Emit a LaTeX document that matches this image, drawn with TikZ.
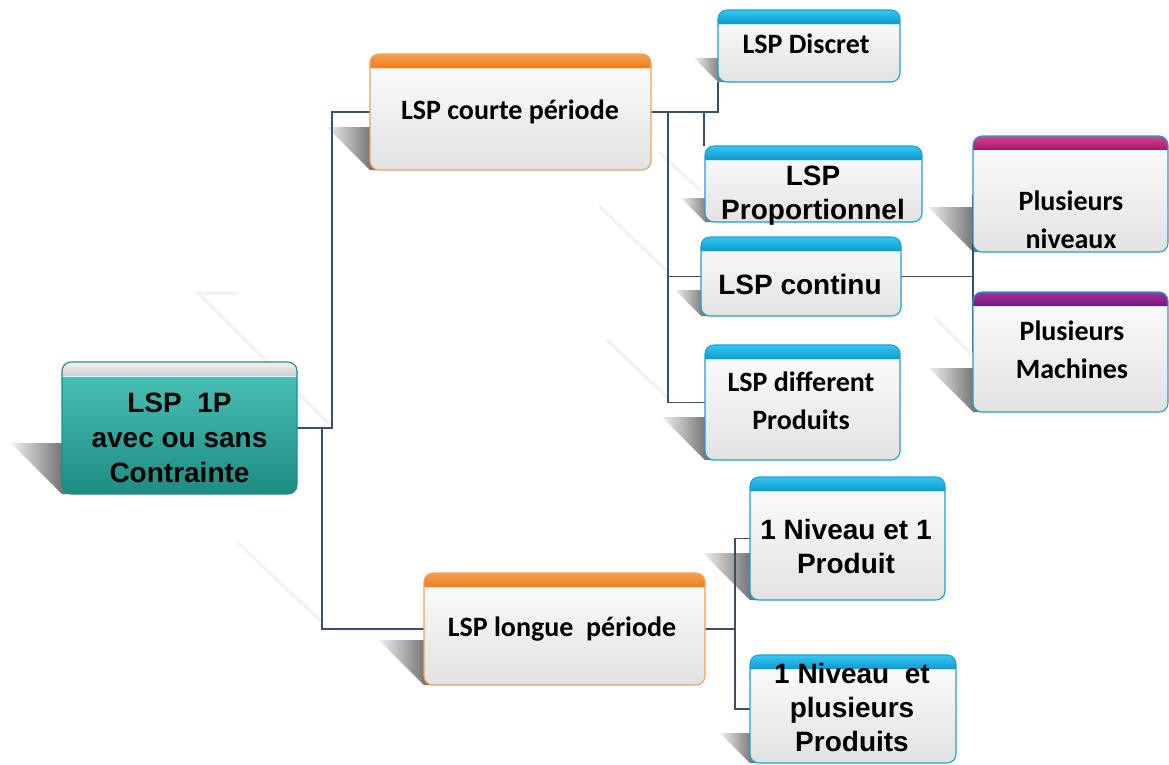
\documentclass[tikz,border=0pt]{standalone}
\usepackage{fontspec}
\setmainfont{Liberation Sans}
\newfontfamily\calib{Carlito}
\usetikzlibrary{fit,calc}

\definecolor{connc}{RGB}{58,78,110}
\definecolor{bodytop}{RGB}{253,253,253}
\definecolor{bodybot}{RGB}{226,226,226}
\definecolor{bluetop}{RGB}{52,200,242}
\definecolor{bluebot}{RGB}{11,154,208}
\definecolor{blueline}{RGB}{30,160,213}
\definecolor{orgtop}{RGB}{245,160,80}
\definecolor{orgbot}{RGB}{236,125,34}
\definecolor{orgline}{RGB}{242,160,90}
\definecolor{magtop}{RGB}{212,68,143}
\definecolor{magbot}{RGB}{166,24,104}
\definecolor{purtop}{RGB}{161,51,159}
\definecolor{purbot}{RGB}{122,19,122}
\definecolor{tealtop}{RGB}{76,197,186}
\definecolor{tealbot}{RGB}{30,140,131}
\definecolor{tealline}{RGB}{31,143,134}
\definecolor{greytop}{RGB}{244,244,244}
\definecolor{greybot}{RGB}{205,205,205}

% card: clipped body gradient, header band, rounded border
\newcommand\drawcard[7]{%
  \begin{scope}
    \clip[rounded corners=9pt] (#1.north west) rectangle (#1.south east);
    \shade[top color=#5, bottom color=#6] (#1.north west) rectangle (#1.south east);
    \shade[top color=#2, bottom color=#3] (#1.north west) rectangle ([yshift=-14pt]#1.north east);
    \draw[#7, line width=0.7pt] ([yshift=-14pt]#1.north west) -- ([yshift=-14pt]#1.north east);
  \end{scope}
  \draw[#4, line width=1.1pt, rounded corners=9pt] (#1.north west) rectangle (#1.south east);
}
% slanted cast shadow to the lower left of a card
\newcommand\castshadow[2]{%
  \shade[left color=black!6, right color=black!62]
    ([xshift=-#2pt,yshift=#2pt]#1.south west) -- ([xshift=8pt,yshift=#2pt]#1.south west)
    -- ([xshift=8pt]#1.south west) -- (#1.south west) -- cycle;
}

\begin{document}
\begin{tikzpicture}[x=1pt,y=-1pt,
  frame/.style={inner sep=0pt, outer sep=0pt},
  conn/.style={draw=connc, line width=1.3pt},
  gleam/.style={draw=black!5, line width=3pt, line cap=round},
  arialtxt/.style={font=\bfseries\fontsize{28}{34}\selectfont, align=center, inner sep=0pt},
  calitxt/.style={font=\calib\bfseries\fontsize{28}{38.5}\selectfont, align=center, inner sep=0pt}]
\useasboundingbox[fill=white] (0,0) rectangle (1169,764);

% card frames
\node[frame, fit={(62,362) (297,494)}] (root) {};
\node[frame, fit={(370,54) (651,170)}] (courte) {};
\node[frame, fit={(718,10) (900,82)}] (disc) {};
\node[frame, fit={(705,146) (922,222)}] (prop) {};
\node[frame, fit={(701,237) (901,316)}] (cont) {};
\node[frame, fit={(705,345) (900,460)}] (diff) {};
\node[frame, fit={(973,136) (1168,252)}] (niv) {};
\node[frame, fit={(973,292) (1168,412)}] (mach) {};
\node[frame, fit={(424,573) (705,685)}] (longue) {};
\node[frame, fit={(750,477) (945,600)}] (nA) {};
\node[frame, fit={(750,655) (956,763)}] (nB) {};

% faint reflections on the floor
\draw[gleam] (236,293) -- (198,293) -- (330,425);
\draw[gleam] (238,543) -- (322,622);
\draw[gleam] (600,207) -- (668,272);
\draw[gleam] (607,340) -- (668,398);
\draw[gleam] (660,153) -- (700,190);
\draw[gleam] (935,318) -- (972,355);

% shadows
\castshadow{root}{51}
\castshadow{courte}{43}
\castshadow{disc}{24}
\castshadow{prop}{24}
\castshadow{cont}{26}
\castshadow{diff}{43}
\castshadow{niv}{45}
\castshadow{mach}{44}
\castshadow{longue}{45}
\castshadow{nA}{47}
\castshadow{nB}{30}

% connectors
\coordinate (rj) at ($(root.east)+(35,0)$);
\coordinate (rk) at ($(root.east)+(25,0)$);
\draw[conn] (root.east) -- (rj) |- (courte.west);
\draw[conn] (rk) |- (longue.west);

\coordinate (cj) at ($(courte.east)+(17,0)$);
\draw[conn] (courte.east) -| (disc.south west);
\draw[conn] (courte.east) -| ([xshift=-1pt]prop.north west);
\draw[conn] (cj) |- (cont.west);
\draw[conn] (cj) |- (diff.west);

\draw[conn] (cont.east) -| (niv.west);
\draw[conn] (cont.east) -| (mach.west);

\coordinate (lj) at ($(longue.east)+(30,0)$);
\draw[conn] (longue.east) -- (lj);
\draw[conn] (lj) |- (nA.west);
\draw[conn] (lj) |- (nB.west);

% cards
\drawcard{root}{greytop}{greybot}{tealline}{tealtop}{tealbot}{white!80!tealtop}
\drawcard{courte}{orgtop}{orgbot}{orgline}{bodytop}{bodybot}{white!70!orgtop}
\drawcard{longue}{orgtop}{orgbot}{orgline}{bodytop}{bodybot}{white!70!orgtop}
\drawcard{disc}{bluetop}{bluebot}{blueline}{bodytop}{bodybot}{white!70!bluetop}
\drawcard{prop}{bluetop}{bluebot}{blueline}{bodytop}{bodybot}{white!70!bluetop}
\drawcard{cont}{bluetop}{bluebot}{blueline}{bodytop}{bodybot}{white!70!bluetop}
\drawcard{diff}{bluetop}{bluebot}{blueline}{bodytop}{bodybot}{white!70!bluetop}
\drawcard{nA}{bluetop}{bluebot}{blueline}{bodytop}{bodybot}{white!70!bluetop}
\drawcard{nB}{bluetop}{bluebot}{blueline}{bodytop}{bodybot}{white!70!bluetop}
\drawcard{niv}{magtop}{magbot}{blueline}{bodytop}{bodybot}{white!70!bluetop}
\drawcard{mach}{purtop}{purbot}{blueline}{bodytop}{bodybot}{white!70!bluetop}

% labels
\node[arialtxt, font=\bfseries\fontsize{28}{35}\selectfont] (rootT) at (179.5,438) {LSP~~1P\\avec ou sans\\Contrainte};
\node[calitxt] (courteT) at (510,112) {LSP courte période};
\node[calitxt] (discT) at (806,44) {LSP Discret};
\node[arialtxt] (propT) at (813,196) {LSP\\Proportionnel};
\node[arialtxt] (contT) at (800,284) {LSP continu};
\node[calitxt] (diffT) at (801,401) {LSP different\\Produits};
\node[calitxt] (nivT) at (1071,220) {Plusieurs\\niveaux};
\node[calitxt] (machT) at (1072,350) {Plusieurs\\Machines};
\node[calitxt] (longT) at (562,629) {LSP longue~~période};
\node[arialtxt] (nAT) at (846,546) {1 Niveau et 1\\Produit};
\node[arialtxt] (nBT) at (852,707) {1 Niveau~~et\\plusieurs\\Produits};
\end{tikzpicture}
\end{document}
